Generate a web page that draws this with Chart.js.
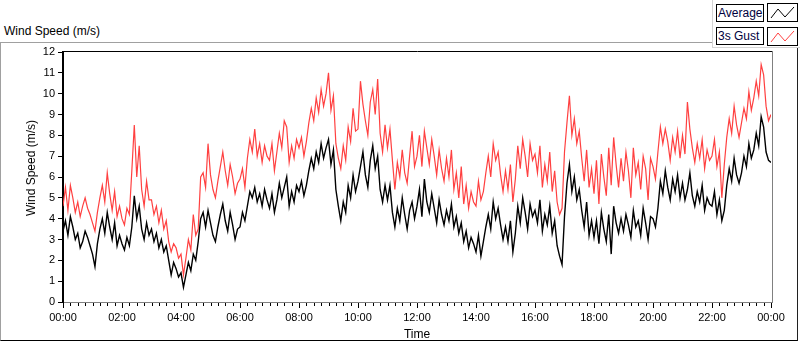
<!DOCTYPE html>
<html>
<head>
<meta charset="utf-8">
<script src="https://cdn.jsdelivr.net/npm/chart.js@4.4.1/dist/chart.umd.min.js"></script>
<style>
html,body{margin:0;padding:0;background:#fff;}
#wrap{position:relative;width:800px;height:342px;overflow:hidden;font-family:"Liberation Sans",Arial,sans-serif;color:#000;}
#panel{position:absolute;left:0;top:42px;width:798px;height:299px;box-sizing:border-box;border-top:1px solid #a0a0a0;border-left:1px solid #a0a0a0;border-right:1px solid #202020;border-bottom:1px solid #000;}
#chart{position:absolute;left:0;top:0;}
#ptitle{position:absolute;left:4px;top:24px;font-size:12px;line-height:14px;white-space:nowrap;}
#legend{position:absolute;left:712px;top:0;width:88px;height:48px;background:#fff;border-left:1px solid #d4d4d4;border-bottom:1px solid #d4d4d4;box-sizing:border-box;}
.lbox{position:absolute;left:3px;width:48px;height:18px;border:1px solid #000;box-sizing:border-box;font-size:12px;line-height:16px;padding-left:1px;white-space:nowrap;background:#fff;color:#000040;}
.ibox{position:absolute;left:54px;width:31px;height:19px;border:1px solid #000;box-sizing:border-box;background:#fff;}
.ibox svg{position:absolute;left:0;top:0;}
#ytitle{position:absolute;left:31px;top:168px;transform:translate(-50%,-50%) rotate(-90deg);font-size:12px;line-height:14px;white-space:nowrap;}
#xtitle{position:absolute;left:417px;top:327px;transform:translateX(-50%);font-size:12px;line-height:14px;white-space:nowrap;}
</style>
</head>
<body>
<div id="wrap">
  <div id="panel"></div>
  <div id="ptitle">Wind Speed (m/s)</div>
  <canvas id="chart" width="800" height="342"></canvas>
  <div id="ytitle">Wind Speed (m/s)</div>
  <div id="xtitle">Time</div>
  <div id="legend">
    <div class="lbox" style="top:4px">Average</div>
    <div class="ibox" style="top:3px"><svg width="29" height="17"><polyline points="3,14 10,5 17,13 26,3" fill="none" stroke="#000" stroke-width="1"/></svg></div>
    <div class="lbox" style="top:27px">3s Gust</div>
    <div class="ibox" style="top:27px"><svg width="29" height="17"><polyline points="3,14 10,5 17,13 26,3" fill="none" stroke="#ff4040" stroke-width="1"/></svg></div>
  </div>
</div>
<script>
// ---- data (5-minute samples, 00:00 .. 24:00) ----
const sampleMinutes = 5;
const seriesNames = ["Average", "3s Gust"];
const timeTickLabels = ["00:00","02:00","04:00","06:00","08:00","10:00","12:00","14:00","16:00","18:00","20:00","22:00","00:00"];
const averageSpeed = [
  3.4,3.9,3.2,4.1,3.6,3.0,3.3,2.6,2.9,3.4,3.1,2.7,
  2.3,1.7,2.8,3.5,4.0,3.3,4.3,3.6,3.0,3.8,2.7,3.2,
  2.8,2.5,3.1,2.7,3.6,5.1,4.0,4.6,3.5,3.0,3.8,3.2,
  3.5,2.9,3.3,2.6,3.0,2.4,2.7,2.0,1.3,1.9,1.6,1.2,
  1.4,0.7,1.3,1.9,1.5,2.3,2.0,2.9,4.0,4.3,3.6,4.4,
  3.8,3.2,2.9,3.6,4.2,4.7,3.9,3.4,4.3,3.7,3.0,3.5,
  3.6,4.3,3.9,4.6,5.3,5.0,5.5,4.8,5.2,4.6,5.4,4.9,
  4.5,5.2,4.3,4.9,5.7,5.0,5.5,6.0,4.6,5.3,4.8,5.6,
  5.3,5.8,5.1,5.6,6.3,6.9,6.4,7.2,6.7,7.6,6.9,7.4,
  7.8,6.6,7.3,5.4,4.6,3.9,4.8,4.3,5.6,5.0,6.1,5.3,
  5.8,6.5,7.2,6.1,5.5,6.8,7.5,6.4,7.0,5.4,4.8,5.6,
  4.9,5.6,4.3,3.6,4.5,3.9,5.0,4.2,3.5,4.4,4.8,4.0,
  4.6,5.4,4.1,5.9,4.8,4.3,5.2,4.5,3.8,4.9,4.2,3.7,
  4.4,3.9,4.7,3.6,4.1,3.3,3.8,2.9,3.4,2.6,3.1,2.8,
  2.4,3.2,2.2,2.9,3.6,4.2,3.5,4.8,4.0,4.5,3.7,3.0,
  3.6,2.9,3.9,2.4,3.3,4.6,3.8,5.0,4.3,3.5,4.7,4.1,
  4.4,3.8,4.9,3.4,4.2,3.7,4.6,3.3,3.9,2.7,2.2,1.8,
  4.1,5.7,6.6,5.3,6.0,4.9,5.4,4.4,3.6,4.8,3.2,3.9,
  3.1,3.9,2.8,4.3,3.5,2.9,4.2,2.3,4.6,3.8,3.3,4.0,
  3.4,4.2,3.7,3.1,4.4,3.6,3.9,3.2,4.5,3.8,3.0,4.1,
  4.0,3.6,4.5,5.8,5.2,6.3,5.5,4.9,5.9,5.3,6.1,5.0,
  5.7,4.9,5.4,6.2,5.1,4.6,5.3,4.8,5.6,4.4,5.0,4.7,
  4.6,5.3,4.2,4.9,3.9,4.4,5.6,6.4,5.8,6.9,6.1,5.7,
  6.2,7.0,6.5,7.6,6.9,7.3,8.1,7.5,8.9,8.4,7.2,6.8,
  6.7
];
const gustSpeed = [
  4.6,5.5,4.4,5.6,5.0,4.3,4.8,4.1,4.6,5.0,4.5,4.2,
  3.8,3.4,4.3,5.0,5.6,4.8,6.2,5.2,4.4,5.3,4.1,4.6,
  4.0,3.7,4.5,4.2,6.3,8.5,6.0,7.5,5.4,4.6,5.8,4.9,
  4.9,4.2,4.6,3.8,4.4,3.5,3.9,2.9,2.4,2.8,2.6,2.1,
  2.3,1.3,2.1,3.0,2.5,4.2,3.2,3.5,6.0,6.2,5.5,7.6,
  6.1,5.4,5.0,5.8,6.5,7.2,6.3,5.6,6.6,6.0,5.2,5.7,
  5.9,6.4,5.5,6.9,7.8,7.2,8.3,7.0,7.6,6.7,7.5,7.0,
  6.8,7.6,6.3,7.2,8.1,7.4,8.7,8.4,6.7,7.5,6.9,7.8,
  7.4,7.9,7.0,7.7,8.6,9.3,8.7,9.8,9.1,10.2,9.4,10.0,
  11.0,9.2,9.9,7.6,6.9,6.4,7.5,6.8,8.4,7.7,9.3,8.2,
  8.3,10.6,9.5,8.7,8.0,9.6,10.2,9.0,10.7,8.1,7.2,8.5,
  7.4,8.3,6.8,5.4,6.7,6.0,7.3,6.2,5.7,7.0,8.2,6.5,
  7.0,8.0,6.5,8.2,7.4,6.6,7.8,7.0,6.1,7.3,6.4,5.8,
  6.9,6.0,7.3,5.4,6.2,5.0,6.5,4.7,5.6,4.5,5.3,4.8,
  4.6,5.8,4.9,5.3,6.2,7.0,6.0,7.6,6.8,7.2,6.1,5.3,
  6.3,5.4,6.6,4.8,5.9,7.5,6.4,7.8,7.0,6.0,7.6,6.8,
  7.1,6.2,7.5,5.5,6.6,5.8,7.2,5.3,6.3,4.8,4.2,4.5,
  7.2,8.6,9.9,8.0,8.8,7.6,8.2,6.9,5.8,7.3,5.5,6.4,
  5.2,6.8,4.7,7.1,6.0,5.1,7.4,5.6,7.9,6.6,5.5,6.9,
  5.8,7.2,6.3,5.0,7.4,6.1,6.7,5.4,7.0,6.4,4.9,6.9,
  6.5,5.9,7.2,8.4,7.6,8.3,7.7,6.8,7.9,7.2,8.2,6.9,
  8.0,7.1,9.6,8.3,7.4,6.7,7.6,6.9,7.8,6.4,7.3,6.8,
  7.0,7.8,6.5,7.2,5.0,6.6,7.9,8.8,8.1,9.4,8.5,7.9,
  8.6,9.3,8.8,10.1,9.2,9.8,10.6,9.9,11.4,10.9,9.4,8.7,
  9.0
];

const toPoints = arr => arr.map((v, i) => ({ x: i * sampleMinutes, y: v }));
const tickFont = { family: "'Liberation Sans', Arial, sans-serif", size: 11 };

const framePlugin = {
  id: 'frame',
  afterDraw(chart) {
    const { ctx, chartArea } = chart;
    const xs = chart.scales.x;
    ctx.save();
    ctx.lineWidth = 1;
    ctx.strokeStyle = '#000';
    ctx.beginPath();
    ctx.moveTo(chartArea.left - 1, chartArea.top - 0.5);
    ctx.lineTo(chartArea.right + 2, chartArea.top - 0.5);
    ctx.stroke();
    ctx.strokeStyle = '#808080';
    ctx.beginPath();
    ctx.moveTo(Math.round(chartArea.right) + 1.5, chartArea.top - 1);
    ctx.lineTo(Math.round(chartArea.right) + 1.5, chartArea.bottom + 1);
    ctx.stroke();
    ctx.strokeStyle = '#000';
    ctx.beginPath();
    for (let m = 0; m <= 1440; m += 15) {
      if (m % 120 === 0) continue;
      const px = Math.round(xs.getPixelForValue(m)) + 0.5;
      ctx.moveTo(px, chartArea.bottom + 1);
      ctx.lineTo(px, chartArea.bottom + 4);
    }
    ctx.stroke();
    ctx.restore();
  }
};

new Chart(document.getElementById('chart'), {
  type: 'line',
  data: {
    datasets: [
      { label: seriesNames[0], data: toPoints(averageSpeed), borderColor: '#000000', borderWidth: 1.4, pointRadius: 0, tension: 0, fill: false },
      { label: seriesNames[1], data: toPoints(gustSpeed), borderColor: '#ff4040', borderWidth: 1.2, pointRadius: 0, tension: 0, fill: false }
    ]
  },
  options: {
    responsive: false,
    animation: false,
    devicePixelRatio: 1,
    layout: { padding: { top: 52, right: 29, bottom: 0, left: 0 } },
    plugins: { legend: { display: false }, tooltip: { enabled: false } },
    scales: {
      x: {
        type: 'linear', min: 0, max: 1440,
        afterFit(s) { s.height = 40; },
        ticks: { stepSize: 120, autoSkip: false, maxRotation: 0, padding: 3, font: tickFont, color: '#000',
                 callback: v => timeTickLabels[Math.round(v / 120)] },
        grid: { drawOnChartArea: false, tickLength: 6, tickColor: '#000' },
        border: { color: '#808080', width: 1 }
      },
      y: {
        min: 0, max: 12,
        afterFit(s) { s.width = 63; },
        ticks: { stepSize: 1, padding: 3, font: tickFont, color: '#000' },
        grid: { drawOnChartArea: false, tickLength: 5, tickColor: '#000' },
        border: { color: '#000', width: 2 }
      }
    }
  },
  plugins: [framePlugin]
});
</script>
</body>
</html>
